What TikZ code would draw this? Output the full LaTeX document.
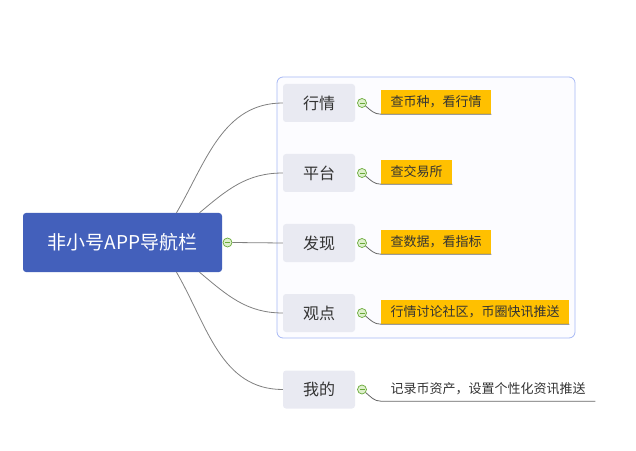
\documentclass[tikz,border=0pt]{standalone}
\usepackage{fontspec}
\newfontfamily\cjk{Noto Sans CJK SC}
\definecolor{bleuracine}{RGB}{67,96,187}
\definecolor{grisbranche}{RGB}{233,234,242}
\definecolor{orfeuille}{RGB}{255,192,0}
\definecolor{bordgroupe}{RGB}{166,184,245}
\definecolor{fondgroupe}{RGB}{252,252,255}
\definecolor{vertbouton}{RGB}{106,170,58}
\definecolor{vertclair}{RGB}{222,240,204}
\definecolor{grislien}{RGB}{128,128,128}
\definecolor{texte}{RGB}{51,51,51}
\begin{document}
\begin{tikzpicture}[x=1pt, y=1pt]
			\tikzset{racine/.style={rectangle, rounded corners=3pt, fill=bleuracine, text=white, minimum width=199pt, minimum height=59pt, font=\cjk\fontsize{19}{21}\selectfont},
				branche/.style={rectangle, rounded corners=3pt, fill=grisbranche, text=texte, minimum width=72pt, minimum height=38pt, font=\cjk\fontsize{16}{18}\selectfont},
				feuille/.style={rectangle, anchor=west, fill=orfeuille, text=texte, inner xsep=9.5pt, inner ysep=0pt, minimum height=24pt, font=\cjk\fontsize{13}{15}\selectfont},
				bouton/.style={circle, draw=vertbouton, fill=vertclair, inner sep=0pt, minimum size=9pt, line width=0.7pt,
					path picture={\draw[vertbouton, line width=0.8pt] ([xshift=-2.5pt]path picture bounding box.center) -- ([xshift=2.5pt]path picture bounding box.center);}},
				lien/.style={draw=grislien, line width=0.8pt},
				souligne/.style={draw=grislien!80!black, line width=0.8pt}};

			\useasboundingbox (0,0) rectangle (636,450);
			\draw[draw=bordgroupe, fill=fondgroupe, rounded corners=6pt, line width=0.8pt] (277,373) rectangle (575,112);

			\node[racine] (r) at (122.5, 207.5) {非小号APP导航栏};
			\node[bouton] (c0) at (227.5, 207.5) {};

			\node[branche] (b1) at (319, 347) {行情};
			\node[branche] (b2) at (319, 277) {平台};
			\node[branche] (b3) at (319, 207) {发现};
			\node[branche] (b4) at (319, 137) {观点};
			\node[branche] (b5) at (319, 60.5) {我的};

			\node[bouton] (c1) at (362, 347) {};
			\node[bouton] (c2) at (362, 277) {};
			\node[bouton] (c3) at (362, 207) {};
			\node[bouton] (c4) at (362, 137) {};
			\node[bouton] (c5) at (362, 60.5) {};

			\node[feuille] (f1) at (381, 348) {查币种，看行情};
			\node[feuille] (f2) at (381, 278) {查交易所};
			\node[feuille] (f3) at (381, 208) {查数据，看指标};
			\node[feuille] (f4) at (381, 138) {行情讨论社区，币圈快讯推送};
			\node[feuille, fill=none] (f5) at (381, 61) {记录币资产，设置个性化资讯推送};

			\draw[lien] ([xshift=54pt]r.north) to[out=60, in=180] (b1.west);
			\draw[lien] ([xshift=77pt]r.north) to[out=40, in=180] (b2.west);
			\draw[lien] (c0.east) -- (b3.west);
			\draw[lien] ([xshift=77pt]r.south) to[out=-40, in=180] (b4.west);
			\draw[lien] ([xshift=54pt]r.south) to[out=-60, in=180] (b5.west);

			\draw[souligne] (c1.-40) to[out=-40, in=180] (f1.south west) -- (f1.south east);
			\draw[souligne] (c2.-40) to[out=-40, in=180] (f2.south west) -- (f2.south east);
			\draw[souligne] (c3.-40) to[out=-40, in=180] (f3.south west) -- (f3.south east);
			\draw[souligne] (c4.-40) to[out=-40, in=180] (f4.south west) -- (f4.south east);
			\draw[souligne] (c5.-40) to[out=-40, in=180] (f5.south west) -- (f5.south east);
		\end{tikzpicture}
\end{document}
